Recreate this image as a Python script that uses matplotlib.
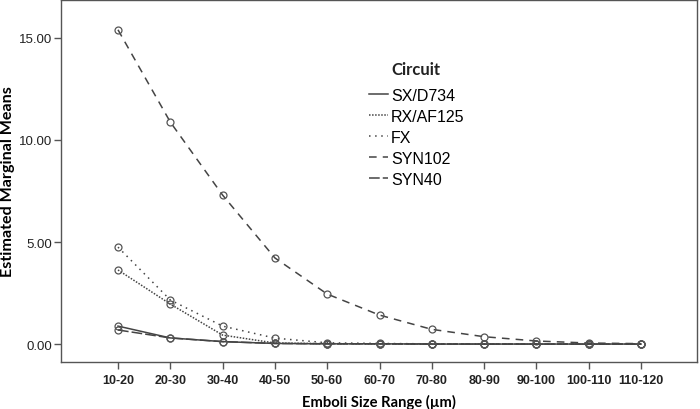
import matplotlib
matplotlib.use("Agg")
import matplotlib.pyplot as plt

# emboli size bins
size_ranges = ['10-20', '20-30', '30-40', '40-50', '50-60', '60-70',
               '70-80', '80-90', '90-100', '100-110', '110-120']

# estimated marginal means per circuit
sx_d734 = [0.88, 0.30, 0.12, 0.03, 0.01, 0.01, 0.00, 0.00, 0.00, 0.00, 0.00]
rx_af125 = [3.63, 1.96, 0.44, 0.05, 0.02, 0.01, 0.00, 0.00, 0.00, 0.00, 0.00]
fx = [4.75, 2.16, 0.88, 0.29, 0.06, 0.03, 0.01, 0.00, 0.00, 0.00, 0.00]
syn102 = [15.40, 10.88, 7.30, 4.22, 2.45, 1.42, 0.72, 0.36, 0.15, 0.05, 0.02]
syn40 = [0.69, 0.30, 0.12, 0.03, 0.01, 0.01, 0.00, 0.00, 0.00, 0.00, 0.00]

circuits = ['SX/D734', 'RX/AF125', 'FX', 'SYN102', 'SYN40']
series = [sx_d734, rx_af125, fx, syn102, syn40]
styles = ['-', (0, (1, 1)), (0, (1, 3)), (0, (5, 4)), (0, (7, 2))]

plt.rcParams['font.family'] = ['Liberation Sans', 'DejaVu Sans']

fig = plt.figure(figsize=(7, 4.1), dpi=100)
ax = fig.add_axes([0.0871, 0.1146, 0.9086, 0.883])

x = list(range(len(size_ranges)))
for name, vals, ls in zip(circuits, series, styles):
    ax.plot(x, vals, linestyle=ls, color='#444444', linewidth=1.1,
            marker='o', markersize=5, markerfacecolor='none',
            markeredgecolor='#555555', markeredgewidth=0.9, label=name)

ax.set_xlim(-1.09, 11.07)
ax.set_ylim(-0.88, 16.86)
ax.set_xticks(x)
ax.set_xticklabels(size_ranges, fontsize=9, fontweight='bold', color='#222222')
ax.set_yticks([0, 5, 10, 15])
ax.set_yticklabels(['0.00', '5.00', '10.00', '15.00'], fontsize=9.5, color='#222222')
ax.tick_params(direction='out', length=5, width=1, color='#555555')
ax.tick_params(axis='y', pad=1)

for s in ax.spines.values():
    s.set_color('#555555')
    s.set_linewidth(1)

ax.set_ylabel('Estimated Marginal Means', fontsize=11.6, fontweight='bold',
              family='Lato')
ax.yaxis.set_label_coords(-0.073, 0.5)
ax.set_xlabel('Emboli Size Range (\u00b5m)', fontsize=10.6, fontweight='bold',
              family='Lato', labelpad=6)

leg = ax.legend(loc='upper left', bbox_to_anchor=(0.484, 0.758), frameon=False,
                fontsize=11.5, handlelength=1.2, handletextpad=0.2,
                labelspacing=0.38, borderpad=0, borderaxespad=0)
for h in leg.legend_handles:
    h.set_marker('')

# legend title, aligned with the entry texts as in the original
ax.text(0.520, 0.810, 'Circuit', transform=ax.transAxes, ha='left', va='center',
        fontsize=12, fontweight='bold', family='Lato', color='#222222')

fig.savefig('out.png', dpi=100)
